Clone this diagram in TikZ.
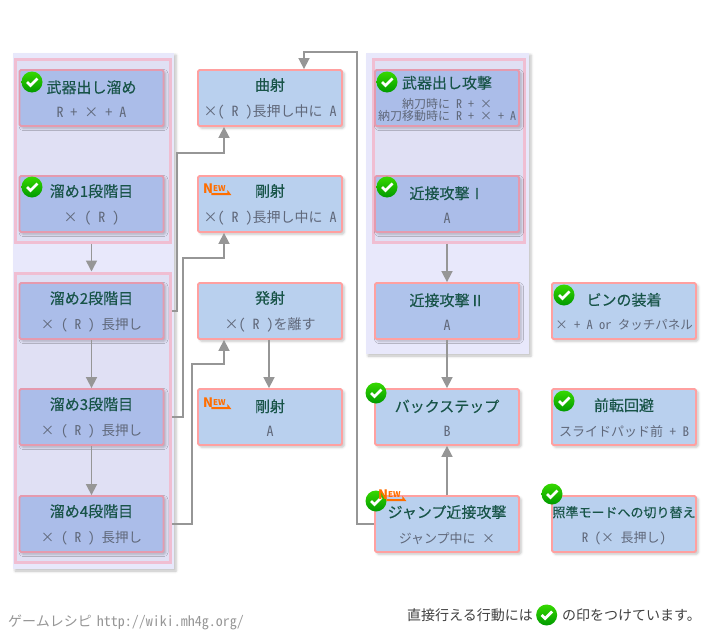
\documentclass[tikz,border=0pt]{standalone}
\usepackage{fontspec}
\usetikzlibrary{
    arrows.meta,
    calc,
    positioning,
    shadows.blur
}
\setmainfont{Noto Sans CJK JP}
\newfontfamily\namefont[FakeBold=0.3]{Noto Sans CJK JP}
\newfontfamily\keyfont[RawFeature=+hwid]{Noto Sans CJK JP}
\definecolor{ink}{RGB}{24,84,72}
\definecolor{muted}{RGB}{96,104,122}
\definecolor{linkgray}{RGB}{150,150,150}
\definecolor{movefill}{RGB}{185,208,238}
\definecolor{moveline}{RGB}{255,160,160}
\definecolor{groupfill}{RGB}{171,189,233}
\definecolor{groupline}{RGB}{229,154,174}
\definecolor{panelfill}{RGB}{232,232,251}
\definecolor{framefill}{RGB}{224,224,244}
\definecolor{frameline}{RGB}{240,190,210}
\definecolor{newmark}{RGB}{255,110,0}
\newcommand{\actname}[2][15]{{\rule{0pt}{14pt}\namefont\fontsize{#1}{18}\selectfont\color{ink}#2}}
\newcommand{\actkeys}[2][14]{{\keyfont\fontsize{#1}{14}\selectfont\color{muted}#2}}
\tikzset{
    pop/.style={
        blur shadow={shadow xshift=2pt, shadow yshift=-2pt, shadow blur radius=2.5pt, shadow opacity=25}
    },
    movebox/.style={
        rectangle,
        draw=moveline,
        line width=1.8pt,
        rounded corners=1.5pt,
        fill=movefill,
        minimum width=144pt,
        minimum height=56pt,
        inner sep=0pt,
        align=center,
        pop
    },
    groupbox/.style={
        movebox,
        draw=groupline,
        fill=groupfill
    },
    panelbox/.style={
        rectangle,
        fill=panelfill,
        inner sep=0pt,
        pop
    },
    framebox/.style={
        rectangle,
        draw=frameline,
        fill=framefill,
        line width=3pt,
        inner sep=0pt
    },
    link/.style={
        -{Triangle[width=11pt,length=11pt]},
        draw=linkgray,
        line width=1.6pt
    },
    okmark/.style={
        circle,
        minimum size=21pt,
        inner sep=0pt,
        top color=green!75!yellow!85!black,
        bottom color=green!60!black,
        path picture={
            \draw[white, line width=2.8pt, shift={(path picture bounding box.center)}]
                (-5,0) -- (-1.5,3.5) -- (5.5,-3.5);
        }
    },
    newtext/.style={
        font=\fontsize{8}{8}\selectfont\bfseries,
        text=newmark,
        inner sep=0pt,
        anchor=base west
    },
    foot/.style={
        font=\fontsize{14}{16}\selectfont,
        inner sep=0pt
    }
}
% NEW badge, left end of the N at #2
\newcommand{\newbadge}[2]{
    \node[newtext] (#1) at (#2) {{\fontsize{13}{13}\selectfont N}\raisebox{1.5pt}{EW}};
    \fill[newmark] ($(#1.base east)+(-0.5,2)$) -- ++(6,0) -- ++(-4,-5) -- ++(0,3) -- ++(-16,0) -- ++(0,2) -- cycle;
}

\begin{document}
\begin{tikzpicture}[x=1pt, y=-1pt]
\useasboundingbox (0,0) rectangle (710,640);

% Panels
\node[panelbox, minimum width=161pt, minimum height=516pt] (panelL) at (93.5,311) {};
\node[panelbox, minimum width=163pt, minimum height=301pt] (panelR) at (447.5,203.5) {};
\node[framebox, minimum width=155pt, minimum height=183pt] (groupA) at (93,150.5) {};
\node[framebox, minimum width=155pt, minimum height=289pt] (groupB) at (93,417.5) {};
\node[framebox, minimum width=151pt, minimum height=183pt] (groupC) at (449,150.5) {};

% Connectors
\node[groupbox] (tame0) at (91.5,98) {\actname{武器出し溜め}\\[12pt]\actkeys{R + × + A}};
\node[groupbox] (tame1) at (91.5,204) {\actname{溜め1段階目}\\[12pt]\actkeys{× ( R )}};
\node[groupbox] (tame2) at (91.5,311) {\actname{溜め2段階目}\\[12pt]\actkeys[13.5]{× ( R ) 長押し}};
\node[groupbox] (tame3) at (91.5,417) {\actname{溜め3段階目}\\[12pt]\actkeys[13.5]{× ( R ) 長押し}};
\node[groupbox] (tame4) at (91.5,524) {\actname{溜め4段階目}\\[12pt]\actkeys[13.5]{× ( R ) 長押し}};

\node[movebox] (kyoku) at (270,98) {\actname{曲射}\\[12pt]\actkeys{×( R )長押し中に A}};
\node[movebox] (gou1) at (270,204) {\actname{剛射}\\[12pt]\actkeys{×( R )長押し中に A}};
\node[movebox] (hassha) at (270,311) {\actname{発射}\\[12pt]\actkeys{×( R )を離す}};
\node[movebox] (gou2) at (270,417) {\actname{剛射}\\[12pt]\actkeys{A}};

\node[groupbox] (buki) at (447,98) {\actname{武器出し攻撃}\\[8pt]\actkeys[12]{納刀時に R + ×}\\\actkeys[12]{納刀移動時に R + × + A}};
\node[groupbox] (kin1) at (447,204) {\actname{近接攻撃Ⅰ}\\[12pt]\actkeys{A}};
\node[movebox, fill=groupfill!70!movefill] (kin2) at (447,311) {\actname{近接攻撃Ⅱ}\\[12pt]\actkeys{A}};
\node[movebox] (back) at (447,417) {\actname{バックステップ}\\[12pt]\actkeys{B}};
\node[movebox] (jump) at (447,524) {\actname{ジャンプ近接攻撃}\\[12pt]\actkeys[13]{ジャンプ中に ×}};

\node[movebox] (bin) at (624,311) {\actname{ビンの装着}\\[12pt]\actkeys[12.5]{× + A or タッチパネル}};
\node[movebox] (roll) at (624,417) {\actname{前転回避}\\[12pt]\actkeys[13]{スライドパッド前 + B}};
\node[movebox] (aim) at (624,524) {\actname[13]{照準モードへの切り替え}\\[12pt]\actkeys[13]{R (× 長押し)}};

\draw[link] (groupA.south -| tame1) -- (groupB.north -| tame1);
\draw[link] (tame2) -- (tame3);
\draw[link] (tame3) -- (tame4);
\draw[link] (groupB.east |- tame2) -| (177,153) -| ([xshift=-46pt]kyoku.south);
\draw[link] (groupB.east |- tame3) -| (183,258) -| ([xshift=-46pt]gou1.south);
\draw[link] (groupB.east |- tame4) -| (192,364) -| ([xshift=-46pt]hassha.south);
\draw[link] ([xshift=-1pt]hassha.south) -- ([xshift=-1pt]gou2.north);
\draw[link] (jump.west) -| (357,52) -| ([xshift=34pt]kyoku.north);
\draw[link] (groupC.south -| kin1) -- (kin2);
\draw[link] (kin2) -- (back);
\draw[link] (jump) -- (back);

% Marks
\node[okmark] (ok1) at (32,82) {};
\node[okmark] (ok2) at (32,187) {};
\node[okmark] (ok3) at (387,82) {};
\node[okmark] (ok4) at (387,187) {};
\node[okmark] (ok5) at (564,295) {};
\node[okmark] (ok6) at (564,401) {};
\node[okmark] (ok7) at (376,393) {};
\node[okmark] (ok8) at (376,501) {};
\node[okmark] (ok9) at (552,494) {};
\newbadge{new1}{203,193}
\newbadge{new2}{203,407}
\newbadge{new3}{378,499}

% Footer
\node[foot, anchor=west, text=linkgray] (site) at (8,622) {ゲームレシピ\hspace{5pt}{\keyfont\fontsize{14}{16}\selectfont http://wiki.mh4g.org/}};
\node[foot, anchor=west, text=black!75] (noteA) at (407,615) {直接行える行動には};
\node[okmark, right=3pt of noteA] (ok10) {};
\node[foot, anchor=west, text=black!75] (noteB) at (562,615) {の印をつけています。};
\end{tikzpicture}
\end{document}
